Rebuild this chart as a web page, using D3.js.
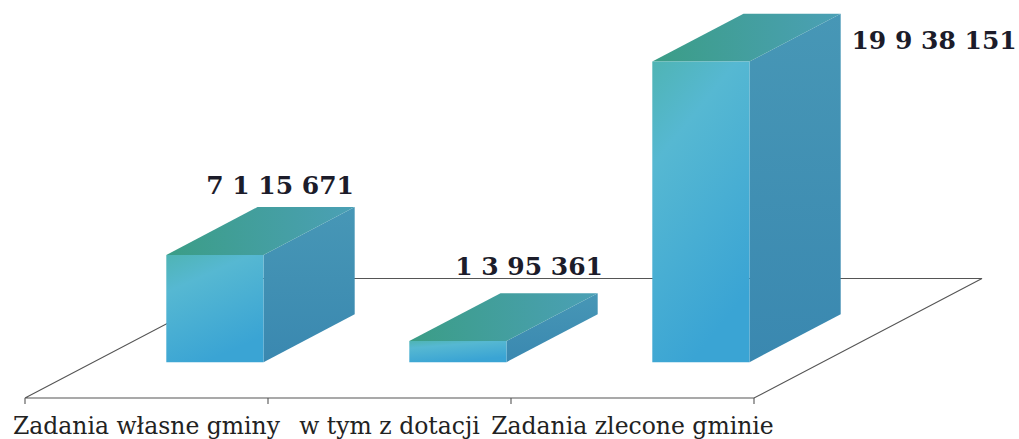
<!DOCTYPE html>
<html>
<head>
<meta charset="utf-8">
<script src="https://cdn.jsdelivr.net/npm/d3@7"></script>
<style>
  html, body { margin: 0; padding: 0; background: #fff; }
  svg { display: block; }
</style>
</head>
<body>
<div id="chart"></div>
<script>
// data
const categories = ["Zadania własne gminy", "w tym z dotacji", "Zadania zlecone gminie"];
const values = [7115671, 1395361, 19938151];
const valueLabels = ["7 1 15 671", "1 3 95 361", "19 9 38 151"];

const width = 1019;
const height = 439;

// floor / projection layout
const floor = { left: 25, right: 754, front: 398 };
const depth = { dx: 228, dy: -119.5 };     // full floor depth vector
const barDepth = [0.30, 0.70];             // bar occupies this part of the depth
const barWidthFrac = 0.4;
// label nudges relative to top-back centre of each bar (hand-placed in original)
const labelNudge = [[-26, -13], [-20, -18], [142, 35]];

const svg = d3.select("#chart")
  .append("svg")
  .attr("width", width)
  .attr("height", height)
  .attr("viewBox", [0, 0, width, height]);

const defs = svg.append("defs");

function grad(id, x2, y2, stops) {
  const g = defs.append("linearGradient")
    .attr("id", id)
    .attr("x1", 0).attr("y1", 0).attr("x2", x2).attr("y2", y2);
  stops.forEach(s => g.append("stop").attr("offset", s[0]).attr("stop-color", s[1]));
}
grad("front", 0.4, 1, [[0, "#4fb4b4"], [0.3, "#56b8d2"], [1, "#3aa4d4"]]);
grad("top", 1, 0, [[0, "#3b9d86"], [1, "#4ba0b6"]]);
grad("side", 0, 1, [[0, "#4797b6"], [1, "#3a88b0"]]);

const x = d3.scaleBand()
  .domain(categories)
  .range([floor.left, floor.right])
  .padding(0);

// bar height in px
const h = d3.scaleLinear()
  .domain([0, 20000000])
  .range([0, 301.5]);

// project point (px along front, depth fraction t, height px)
function P(px, t, hz) {
  return [px + depth.dx * t, floor.front + depth.dy * t - hz];
}
const line = d3.line();

// floor
const g0 = svg.append("g")
  .attr("fill", "none")
  .attr("stroke", "#555")
  .attr("stroke-width", 1.1);

g0.append("path").attr("d", line([
  P(floor.left, 0, 0), P(floor.left, 1, 0), P(floor.right, 1, 0), P(floor.right, 0, 0), P(floor.left, 0, 0)
]));

// ticks
g0.selectAll("line.tick")
  .data(categories.map(c => x(c)).concat([floor.right]))
  .join("line")
  .attr("class", "tick")
  .attr("x1", d => d).attr("x2", d => d)
  .attr("y1", floor.front).attr("y2", floor.front + 6);

// bars
const bw = x.bandwidth() * barWidthFrac;
const bars = svg.append("g")
  .selectAll("g")
  .data(values)
  .join("g");

bars.each(function (v, i) {
  const g = d3.select(this);
  const cx = x(categories[i]) + x.bandwidth() / 2;
  const x0 = cx - bw / 2, x1 = cx + bw / 2;
  const [t0, t1] = barDepth;
  const hz = h(v);
  // side
  g.append("path")
    .attr("fill", "url(#side)")
    .attr("d", line([P(x1, t0, 0), P(x1, t1, 0), P(x1, t1, hz), P(x1, t0, hz)]) + "Z");
  // top
  g.append("path")
    .attr("fill", "url(#top)")
    .attr("d", line([P(x0, t0, hz), P(x1, t0, hz), P(x1, t1, hz), P(x0, t1, hz)]) + "Z");
  // front
  g.append("path")
    .attr("fill", "url(#front)")
    .attr("d", line([P(x0, t0, 0), P(x1, t0, 0), P(x1, t0, hz), P(x0, t0, hz)]) + "Z");

  const tb = P(cx, t1, hz);
  g.append("text")
    .attr("x", tb[0] + labelNudge[i][0])
    .attr("y", tb[1] + labelNudge[i][1])
    .attr("text-anchor", "middle")
    .attr("font-family", "'DejaVu Serif', serif")
    .attr("font-weight", "bold")
    .attr("font-size", 25)
    .attr("fill", "#1c1c2a")
    .text(valueLabels[i]);
});

// category labels
svg.append("g")
  .selectAll("text")
  .data(categories)
  .join("text")
  .attr("x", d => x(d) + x.bandwidth() / 2)
  .attr("y", 434)
  .attr("text-anchor", "middle")
  .attr("font-family", "'DejaVu Serif', serif")
  .attr("font-size", 23.5)
  .attr("fill", "#222")
  .text(d => d);
</script>
</body>
</html>
